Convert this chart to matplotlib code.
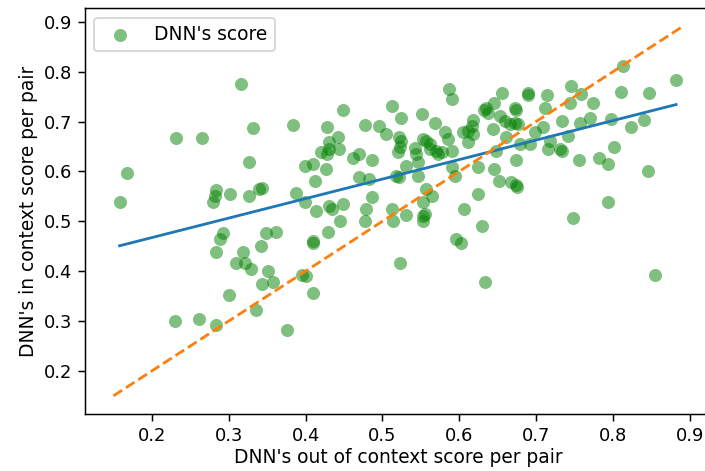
import numpy as np
import matplotlib
matplotlib.use("Agg")
import matplotlib.pyplot as plt

# DNN scores per pair
out_ctx = [0.316, 0.331, 0.232, 0.265, 0.384, 0.326, 0.168, 0.158, 0.284, 0.282,
           0.279, 0.302, 0.326, 0.339, 0.343, 0.387, 0.292, 0.288, 0.283, 0.318,
           0.310, 0.321, 0.329, 0.342, 0.348, 0.361, 0.351, 0.343, 0.358, 0.300,
           0.336, 0.230, 0.261, 0.283, 0.376, 0.399, 0.431, 0.434, 0.449, 0.414,
           0.479, 0.512, 0.553, 0.477, 0.514, 0.531, 0.553, 0.553, 0.606, 0.445,
           0.429, 0.409, 0.410, 0.596, 0.602, 0.629, 0.523, 0.395, 0.400, 0.409,
           0.633, 0.748, 0.793, 0.854, 0.449, 0.512, 0.524, 0.551, 0.569, 0.428,
           0.477, 0.496, 0.505, 0.522, 0.524, 0.442, 0.430, 0.431, 0.428, 0.420,
           0.443, 0.470, 0.462, 0.487, 0.520, 0.523, 0.542, 0.544, 0.553, 0.557,
           0.562, 0.572, 0.399, 0.410, 0.426, 0.531, 0.546, 0.546, 0.412, 0.470,
           0.483, 0.518, 0.522, 0.487, 0.557, 0.564, 0.555, 0.587, 0.590, 0.655,
           0.689, 0.690, 0.714, 0.745, 0.645, 0.635, 0.632, 0.637, 0.672, 0.674,
           0.711, 0.744, 0.653, 0.659, 0.666, 0.677, 0.672, 0.618, 0.616, 0.611,
           0.605, 0.618, 0.644, 0.581, 0.585, 0.698, 0.709, 0.733, 0.742, 0.661,
           0.679, 0.692, 0.648, 0.718, 0.716, 0.731, 0.733, 0.562, 0.570, 0.577,
           0.590, 0.757, 0.756, 0.611, 0.674, 0.624, 0.590, 0.594, 0.645, 0.651,
           0.667, 0.674, 0.675, 0.624, 0.813, 0.882, 0.811, 0.847, 0.758, 0.774,
           0.770, 0.798, 0.840, 0.823, 0.801, 0.782, 0.794, 0.845]
in_ctx = [0.775, 0.686, 0.667, 0.667, 0.693, 0.618, 0.596, 0.539, 0.563, 0.551,
          0.539, 0.555, 0.551, 0.565, 0.567, 0.556, 0.477, 0.465, 0.438, 0.439,
          0.417, 0.417, 0.405, 0.450, 0.476, 0.479, 0.401, 0.375, 0.378, 0.353,
          0.323, 0.300, 0.305, 0.293, 0.281, 0.538, 0.531, 0.525, 0.535, 0.521,
          0.525, 0.525, 0.538, 0.501, 0.501, 0.513, 0.511, 0.501, 0.525, 0.500,
          0.478, 0.460, 0.456, 0.465, 0.456, 0.491, 0.416, 0.393, 0.391, 0.356,
          0.378, 0.506, 0.538, 0.393, 0.723, 0.731, 0.708, 0.716, 0.698, 0.689,
          0.693, 0.690, 0.675, 0.668, 0.661, 0.668, 0.658, 0.645, 0.635, 0.638,
          0.645, 0.635, 0.627, 0.623, 0.638, 0.648, 0.647, 0.635, 0.665, 0.661,
          0.645, 0.635, 0.611, 0.615, 0.604, 0.611, 0.618, 0.591, 0.581, 0.589,
          0.585, 0.591, 0.589, 0.548, 0.565, 0.551, 0.515, 0.765, 0.745, 0.757,
          0.757, 0.753, 0.753, 0.771, 0.738, 0.728, 0.723, 0.718, 0.728, 0.723,
          0.728, 0.738, 0.711, 0.701, 0.696, 0.695, 0.698, 0.703, 0.691, 0.681,
          0.678, 0.675, 0.685, 0.678, 0.665, 0.678, 0.688, 0.701, 0.671, 0.668,
          0.655, 0.655, 0.641, 0.661, 0.645, 0.645, 0.641, 0.655, 0.641, 0.638,
          0.641, 0.697, 0.622, 0.658, 0.623, 0.608, 0.608, 0.591, 0.605, 0.581,
          0.578, 0.572, 0.568, 0.555, 0.811, 0.783, 0.760, 0.757, 0.755, 0.738,
          0.707, 0.705, 0.703, 0.689, 0.648, 0.626, 0.615, 0.600]

# y = x reference line ends
diag = [0.15, 0.89]

x = np.array(out_ctx)
y = np.array(in_ctx)

DPI = 134
fig = plt.figure(figsize=(705 / DPI, 471 / DPI), dpi=DPI)
ax = fig.add_axes([0.1206, 0.1204, 0.8874, 0.862])

ax.scatter(x, y, s=49, color='green', alpha=0.5, linewidths=0, label="DNN's score")

# least squares fit
m, b = np.polyfit(x, y, 1)
xs = np.array([x.min(), x.max()])
ax.plot(xs, m * xs + b)
ax.plot(diag, diag, '--')

ax.set_xticks([0.2, 0.3, 0.4, 0.5, 0.6, 0.7, 0.8, 0.9])
ax.set_yticks([0.2, 0.3, 0.4, 0.5, 0.6, 0.7, 0.8, 0.9])
ax.tick_params(labelsize=9.6)
ax.spines['right'].set_visible(False)
ax.set_xlabel("DNN's out of context score per pair", labelpad=1.5)
ax.set_ylabel("DNN's in context score per pair", labelpad=3)
ax.legend(loc='upper left')

fig.savefig("out.png", dpi=DPI)
